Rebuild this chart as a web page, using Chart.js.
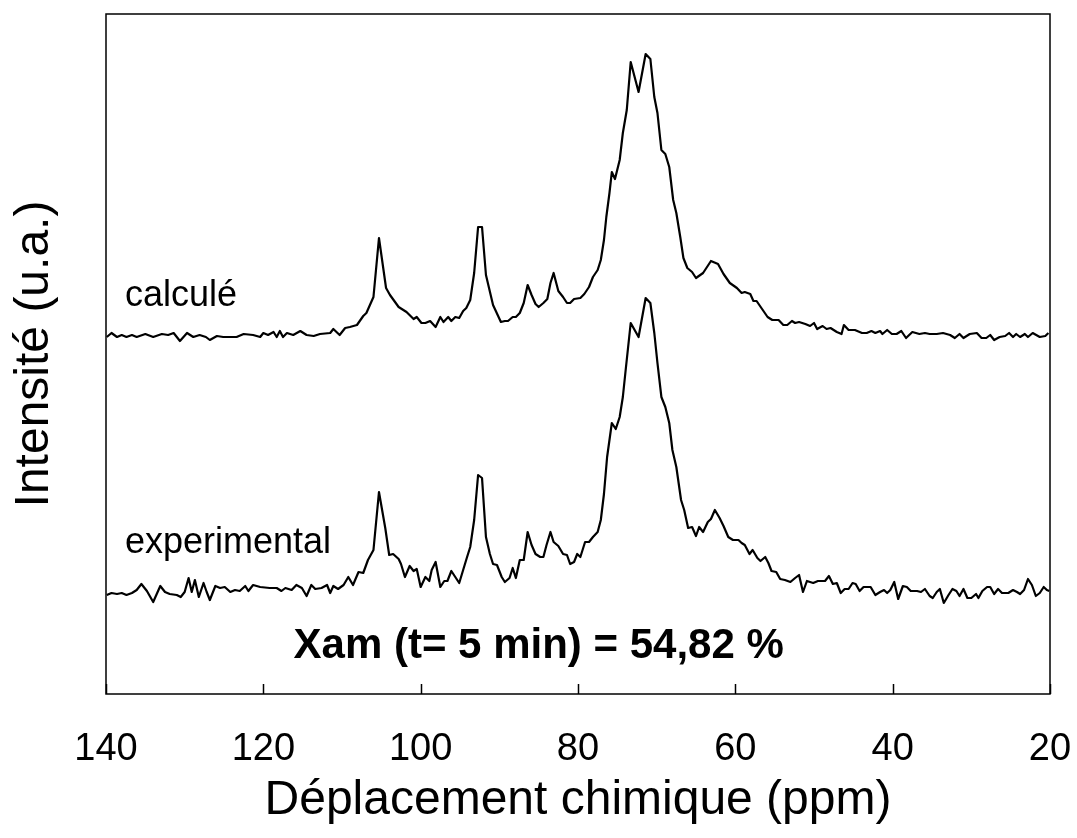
<!DOCTYPE html>
<html>
<head>
<meta charset="utf-8">
<title>Spectre RMN</title>
<script src="https://cdn.jsdelivr.net/npm/chart.js@4.4.1/dist/chart.umd.min.js"></script>
<style>
  html, body { margin: 0; padding: 0; background: #fff; }
  #wrap { width: 1077px; height: 838px; }
</style>
</head>
<body>
<div id="wrap"><canvas id="nmr-chart" width="1077" height="838"></canvas></div>
<script>
// Spectre calculé (ppm / intensité relative à la ligne de base)
const calcPpm = [
  139.9, 139.3, 138.6, 138.0, 137.4, 136.7, 136.1, 135.0, 134.0, 132.9,
  132.1, 131.4, 130.6, 129.7, 128.9, 128.1, 127.3, 126.8, 125.9, 125.1,
  124.2, 123.4, 122.5, 121.3, 120.4, 120.0, 119.4, 118.7, 118.3, 117.9,
  117.5, 117.0, 116.2, 115.3, 114.5, 113.6, 112.8, 111.5, 111.1, 110.3,
  109.6, 109.0, 108.1, 107.3, 106.9, 106.0, 105.3, 104.4, 103.9, 102.8,
  101.8, 100.9, 100.5, 99.9, 99.4, 98.8, 98.1, 97.5, 97.1, 96.5,
  96.1, 95.6, 95.1, 94.6, 94.2, 93.7, 93.2, 92.7, 92.2, 91.7,
  90.8, 89.8, 89.3, 88.9, 88.3, 87.9, 87.4, 86.9, 86.4, 85.9,
  85.4, 85.0, 84.4, 83.9, 83.5, 83.1, 82.5, 81.9, 81.4, 81.0,
  80.5, 79.7, 79.2, 78.6, 78.1, 77.5, 77.1, 76.7, 76.4, 76.0,
  75.7, 75.3, 74.7, 74.3, 73.8, 73.3, 72.3, 71.4, 70.8, 70.3,
  69.9, 69.4, 68.9, 68.4, 67.9, 67.5, 67.0, 66.6, 66.1, 65.5,
  65.0, 64.1, 63.1, 62.2, 61.5, 60.7, 59.8, 59.2, 58.8, 58.1,
  57.7, 57.3, 56.6, 55.9, 55.3, 54.5, 53.9, 53.4, 52.8, 52.4,
  51.9, 51.1, 50.5, 50.0, 49.6, 48.9, 48.4, 47.9, 47.1, 46.5,
  46.2, 45.6, 44.8, 43.9, 43.3, 42.7, 42.2, 41.6, 41.3, 40.7,
  40.1, 39.5, 38.9, 38.3, 37.5, 36.6, 35.9, 35.3, 34.4, 33.6,
  32.7, 32.1, 31.5, 31.0, 30.2, 29.3, 28.7, 28.1, 27.6, 27.1,
  26.4, 25.7, 25.2, 24.7, 24.3, 23.8, 23.2, 22.8, 22.2, 21.3,
  20.6, 20.2
];
const calcInt = [
  -1, 3, -1, 1, -1, 1, -1, 2, -1, 2,
  1, 3, -5, 3, -1, 1, -1, -4, 0, -1,
  -1, -1, 2, 1, -1, 3, 1, 4, -1, 5,
  -1, 3, 1, 5, 1, 0, 2, 3, 7, 1,
  8, 9, 11, 20, 23, 39, 98, 48, 41, 29,
  24, 17, 19, 13, 13, 15, 9, 19, 14, 19,
  15, 19, 18, 25, 28, 36, 63, 109, 109, 61,
  31, 14, 15, 15, 19, 19, 23, 33, 51, 41,
  32, 29, 33, 37, 53, 63, 45, 39, 33, 33,
  37, 38, 42, 49, 59, 66, 76, 96, 119, 143,
  164, 157, 176, 203, 226, 274, 244, 282, 277, 239,
  223, 186, 182, 169, 136, 123, 99, 78, 68, 64,
  58, 63, 75, 72, 62, 53, 48, 43, 44, 42,
  35, 35, 27, 19, 16, 16, 11, 11, 15, 13,
  14, 12, 10, 13, 7, 10, 7, 8, 4, 2,
  11, 6, 6, 3, 3, 5, 3, 5, 2, 6,
  2, 2, 5, -2, 4, 2, 3, 2, 2, 3,
  1, -2, 2, -2, 2, 3, -2, -2, 1, -4,
  -1, 0, 3, -1, 2, -1, 2, -1, 3, -1,
  0, 3
];

// Spectre expérimental
const expPpm = [
  139.9, 139.3, 138.6, 138.0, 137.4, 136.7, 136.1, 135.5, 134.8, 134.0,
  133.1, 132.5, 131.9, 131.0, 130.5, 130.0, 129.5, 129.1, 128.7, 128.2,
  127.6, 127.2, 126.8, 126.1, 125.5, 124.9, 124.2, 123.6, 123.0, 122.3,
  121.9, 121.3, 120.4, 119.2, 118.3, 117.7, 117.2, 116.4, 115.8, 115.1,
  114.5, 113.9, 113.4, 112.6, 111.9, 111.5, 111.1, 110.5, 109.8, 109.2,
  108.6, 107.9, 107.3, 106.7, 106.0, 105.3, 104.5, 104.0, 103.5, 102.8,
  102.5, 102.0, 101.4, 100.9, 100.5, 100.0, 99.4, 98.9, 98.6, 98.1,
  97.5, 97.0, 96.6, 96.1, 95.6, 95.1, 94.6, 94.1, 93.7, 93.2,
  92.7, 92.2, 91.7, 91.2, 90.8, 90.3, 89.7, 89.3, 88.7, 88.3,
  87.9, 87.4, 86.9, 86.4, 85.9, 85.4, 84.8, 84.4, 84.0, 83.5,
  83.1, 82.5, 81.9, 81.4, 81.0, 80.5, 80.1, 79.7, 79.1, 78.6,
  78.1, 77.5, 77.1, 76.7, 76.3, 75.7, 75.2, 74.7, 74.3, 73.9,
  73.3, 72.3, 71.4, 70.8, 70.3, 69.9, 69.4, 68.9, 68.4, 68.0,
  67.5, 66.9, 66.5, 66.0, 65.5, 65.0, 64.6, 64.1, 63.5, 63.1,
  62.6, 62.0, 61.5, 60.9, 60.3, 59.6, 59.2, 58.8, 58.2, 57.8,
  57.2, 56.8, 56.2, 55.8, 55.4, 54.8, 54.3, 53.7, 53.0, 52.4,
  51.9, 51.4, 50.9, 50.1, 49.5, 48.6, 48.1, 47.6, 47.1, 46.6,
  46.1, 45.6, 45.1, 44.7, 44.2, 43.7, 42.8, 42.2, 41.6, 41.1,
  40.7, 40.3, 39.8, 39.3, 38.7, 38.2, 37.7, 36.9, 36.4, 35.9,
  35.3, 34.9, 34.4, 34.0, 33.5, 32.9, 32.4, 31.9, 31.5, 31.0,
  30.5, 30.0, 29.4, 29.1, 28.6, 28.0, 27.6, 27.1, 26.6, 26.1,
  25.3, 24.7, 24.2, 23.8, 23.3, 22.8, 22.3, 21.8, 21.3, 20.8,
  20.4, 20.1
];
const expInt = [
  -3, -1, -2, -1, -3, -1, 2, 8, 1, -10,
  6, 0, -2, -3, -5, 0, 14, 0, 12, -5,
  9, 0, -8, 6, 4, 5, 0, 2, 1, 6,
  1, 7, 5, 4, 4, 1, 4, 2, 7, 4,
  -4, 7, 3, 4, 7, -1, 6, 3, 7, 15,
  7, 20, 19, 32, 42, 100, 64, 37, 38, 33,
  28, 15, 26, 21, 23, 5, 15, 11, 22, 30,
  5, 11, 11, 21, 15, 9, 22, 35, 45, 72,
  117, 114, 55, 38, 28, 27, 15, 10, 14, 24,
  14, 32, 32, 60, 47, 38, 35, 35, 47, 60,
  50, 46, 38, 37, 28, 30, 38, 35, 50, 50,
  55, 60, 72, 98, 135, 169, 163, 175, 195, 225,
  269, 255, 294, 289, 259, 229, 195, 185, 169, 142,
  125, 92, 82, 64, 65, 56, 65, 60, 70, 73,
  82, 74, 66, 55, 52, 52, 49, 47, 38, 42,
  34, 31, 35, 29, 21, 20, 13, 12, 10, 14,
  17, 0, 11, 9, 11, 11, 16, 8, 9, -1,
  3, 3, 9, 8, 1, 5, 5, -3, 0, 2,
  -1, 2, 10, -7, 6, 5, 1, 1, 0, 3,
  -4, -6, 0, 3, -11, -3, 3, 1, -4, 3,
  -6, -6, -2, -6, 1, 5, 5, -2, 3, -1,
  -1, 2, 0, -2, 2, 13, 7, -4, -1, 5,
  2, 1
];

// décalage vertical des deux spectres (u.a.)
const calcOffset = 358;
const expOffset = 102;
const xTicks = [140, 120, 100, 80, 60, 40, 20];

const FONT = 'Arial, "Liberation Sans", Helvetica, sans-serif';

function toPoints(ppm, vals, offset) {
  return ppm.map((p, i) => ({ x: p, y: vals[i] + offset }));
}

// cadre, graduations internes et annotations
const decorPlugin = {
  id: 'decor',
  afterDraw(chart) {
    const ctx = chart.ctx;
    const area = chart.chartArea;
    const xs = chart.scales.x;
    const ys = chart.scales.y;
    ctx.save();
    ctx.strokeStyle = '#000';
    ctx.lineWidth = 1.5;
    ctx.strokeRect(area.left, area.top, area.right - area.left, area.bottom - area.top);
    ctx.beginPath();
    xTicks.forEach(v => {
      const px = Math.round(xs.getPixelForValue(v)) + 0.5;
      ctx.moveTo(px, area.bottom);
      ctx.lineTo(px, area.bottom - 10);
    });
    ctx.stroke();

    ctx.fillStyle = '#000';
    ctx.textBaseline = 'alphabetic';
    ctx.font = '36px ' + FONT;
    ctx.textAlign = 'left';
    ctx.fillText('calculé', xs.getPixelForValue(137.6), ys.getPixelForValue(calcOffset + 30));
    ctx.fillText('experimental', xs.getPixelForValue(137.6), ys.getPixelForValue(expOffset + 39));
    ctx.font = 'bold 42px ' + FONT;
    ctx.textAlign = 'center';
    ctx.fillText('Xam (t= 5 min) = 54,82 %', xs.getPixelForValue(85), ys.getPixelForValue(36));
    ctx.restore();
  }
};

const ctx = document.getElementById('nmr-chart').getContext('2d');
const nmrChart = new Chart(ctx, {
  type: 'line',
  data: {
    datasets: [{
      label: 'calculé',
      data: toPoints(calcPpm, calcInt, calcOffset),
      borderColor: '#000',
      borderWidth: 2.2,
      pointRadius: 0,
      tension: 0,
      borderJoinStyle: 'round'
    }, {
      label: 'experimental',
      data: toPoints(expPpm, expInt, expOffset),
      borderColor: '#000',
      borderWidth: 2.2,
      pointRadius: 0,
      tension: 0,
      borderJoinStyle: 'round'
    }]
  },
  options: {
    responsive: false,
    animation: false,
    layout: { padding: { top: 14, right: 27, left: 0, bottom: 0 } },
    plugins: { legend: { display: false }, tooltip: { enabled: false } },
    scales: {
      x: {
        type: 'linear',
        min: 20,
        max: 140,
        reverse: true,
        afterBuildTicks: s => { s.ticks = xTicks.map(v => ({ value: v })); },
        ticks: { color: '#000', font: { family: FONT, size: 38 }, padding: 33, maxRotation: 0, autoSkip: false },
        grid: { display: false, drawTicks: false },
        border: { display: false },
        title: {
          display: true,
          text: 'Déplacement chimique (ppm)',
          color: '#000',
          font: { family: FONT, size: 48 },
          padding: { top: 0, bottom: 8 }
        },
        afterFit: s => {
          s.height = 144;
          // le débordement des étiquettes ne doit pas rétrécir la zone de tracé
          s.paddingLeft = 0;
          s.paddingRight = 0;
        }
      },
      y: {
        min: 0,
        max: 680,
        ticks: { display: false },
        grid: { display: false, drawTicks: false },
        border: { display: false },
        title: {
          display: true,
          text: 'Intensité (u.a.)',
          color: '#000',
          font: { family: FONT, size: 48 },
          padding: { top: 6, bottom: 0 }
        },
        afterFit: s => { s.width = 106; }
      }
    }
  },
  plugins: [decorPlugin]
});
</script>
</body>
</html>
